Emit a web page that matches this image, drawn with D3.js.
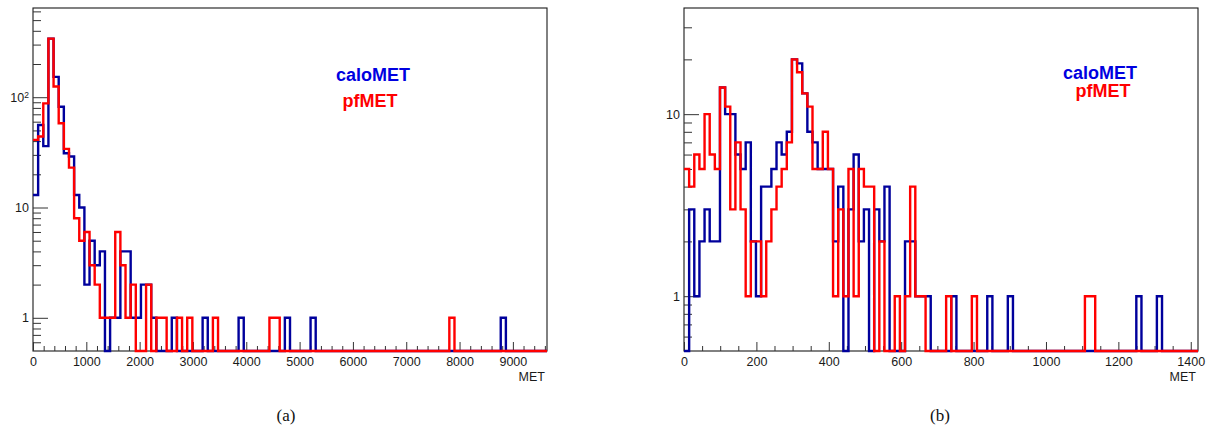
<!DOCTYPE html>
<html>
<head>
<meta charset="utf-8">
<script src="https://cdn.jsdelivr.net/npm/d3@7"></script>
<style>
  html, body { margin: 0; padding: 0; background: #ffffff; }
  svg { display: block; }
</style>
</head>
<body>
<svg id="fig" width="1212" height="435"></svg>
<script>
// ---- MET distributions, 100 equal-width bins per panel ----

// (a) full MET range
const metRangeA = [0, 9640];
const countRangeA = [0.5, 644];
const caloMetA = [
  13, 56, 36, 340, 153, 82, 31, 29, 13, 10,
   2,  5,  3,   4,   0,  1,  1,  4,  4,  1,
   1,  2,  2,   1,   0,  0,  0,  1,  0,  0,
   0,  0,  0,   1,   0,  0,  0,  0,  0,  0,
   1,  0,  0,   0,   0,  0,  0,  0,  0,  1,
   0,  0,  0,   0,   1,  0,  0,  0,  0,  0,
   0,  0,  0,   0,   0,  0,  0,  0,  0,  0,
   0,  0,  0,   0,   0,  0,  0,  0,  0,  0,
   0,  0,  0,   0,   0,  0,  0,  0,  0,  0,
   0,  1,  0,   0,   0,  0,  0,  0,  0,  0
];
const pfMetA = [
  41, 44, 88, 340, 125, 58, 34, 23,  8,  5,
   6,  3,  2,   1,   1,  1,  6,  3,  1,  2,
   0,  0,  2,   0,   1,  1,  0,  0,  1,  0,
   1,  0,  0,   0,   0,  1,  0,  0,  0,  0,
   0,  0,  0,   0,   0,  0,  1,  1,  0,  0,
   0,  0,  0,   0,   0,  0,  0,  0,  0,  0,
   0,  0,  0,   0,   0,  0,  0,  0,  0,  0,
   0,  0,  0,   0,   0,  0,  0,  0,  0,  0,
   0,  1,  0,   0,   0,  0,  0,  0,  0,  0,
   0,  0,  0,   0,   0,  0,  0,  0,  0,  0
];
const xTickValuesA = [0, 1000, 2000, 3000, 4000, 5000, 6000, 7000, 8000, 9000];
const yTickValuesA = [1, 10, 100];
// [mantissa, exponent] pairs; an empty exponent means plain text
const yTickLabelsA = [["1", ""], ["10", ""], ["10", "2"]];

// (b) low-MET range
const metRangeB = [0, 1420];
const countRangeB = [0.5, 38.3];
const caloMetB = [
   0,  3,  1,  2,  3,  2,  2, 14, 10, 10,
   6,  5,  7,  2,  1,  4,  4,  5,  7,  6,
   8, 20, 19, 13,  8,  7,  5,  5,  5,  2,
   4,  0,  3,  6,  2,  3,  0,  3,  2,  4,
   0,  0,  0,  2,  2,  1,  1,  1,  0,  0,
   0,  0,  1,  0,  0,  0,  0,  0,  0,  1,
   0,  0,  0,  1,  0,  0,  0,  0,  0,  0,
   0,  0,  0,  0,  0,  0,  0,  0,  0,  0,
   0,  0,  0,  0,  0,  0,  0,  0,  1,  0,
   0,  0,  1,  0,  0,  0,  0,  0,  0,  0
];
const pfMetB = [
   5,  4,  6,  5, 10,  6,  5, 14, 11,  3,
   7,  3,  1,  2,  2,  1,  2,  3,  4,  5,
   7, 20, 17, 13, 11,  5,  5,  8,  5,  1,
   3,  1,  5,  1,  5,  4,  4,  0,  2,  0,
   0,  1,  0,  1,  4,  1,  1,  0,  0,  0,
   0,  1,  0,  0,  0,  0,  1,  0,  0,  0,
   0,  0,  0,  0,  0,  0,  0,  0,  0,  0,
   0,  0,  0,  0,  0,  0,  0,  0,  1,  1,
   0,  0,  0,  0,  0,  0,  0,  0,  0,  0,
   0,  0,  0,  0,  0,  0,  0,  0,  0,  0
];
const xTickValuesB = [0, 200, 400, 600, 800, 1000, 1200, 1400];
const yTickValuesB = [1, 10];
const yTickLabelsB = [["1", ""], ["10", ""]];

const seriesNames = ["caloMET", "pfMET"];
const axisTitle = "MET";
const panelCaptions = ["(a)", "(b)"];

// ---- drawing ----
const svg = d3.select("#fig");
const LINE_BLUE = "#00009c";
const TEXT_BLUE = "#0000e0";
const RED = "#ff0000";
const SANS = "'Liberation Sans', Arial, Helvetica, sans-serif";
const SERIF = "'Liberation Serif', 'DejaVu Serif', serif";

function logMinorTicks(lo, hi, majors) {
  const out = [];
  for (let e = Math.floor(Math.log10(lo)); Math.pow(10, e) <= hi; e++) {
    for (let d = 1; d <= 9; d++) {
      const v = d * Math.pow(10, e);
      if (v > lo && v <= hi && !majors.includes(v)) out.push(v);
    }
  }
  return out;
}

function drawPanel(cfg, idx) {
  const g = svg.append("g").attr("transform", `translate(${cfg.left},${cfg.top})`);
  const w = cfg.width, h = cfg.height;

  const x = d3.scaleLinear().domain(cfg.xRange).range([0, w]);
  const y = d3.scaleLog().domain(cfg.yRange).range([h, 0]);

  const clipId = "clip" + idx;
  g.append("clipPath").attr("id", clipId)
    .append("rect").attr("x", -1).attr("y", -2).attr("width", w + 2).attr("height", h + 4);

  // frame
  g.append("rect").attr("x", 0).attr("y", 0).attr("width", w).attr("height", h)
    .attr("fill", "none").attr("stroke", "#1a1a1a").attr("stroke-width", 1.1);

  // x axis: major + minor ticks pointing into the frame
  const xMinor = d3.range(cfg.xRange[0], cfg.xRange[1], cfg.xMinorStep)
    .filter(v => !cfg.xTicks.includes(v));
  const xMinorAxis = d3.axisBottom(x).tickValues(xMinor).tickSize(-5).tickSizeOuter(0).tickFormat("");
  const xMajorAxis = d3.axisBottom(x).tickValues(cfg.xTicks).tickSize(-9).tickSizeOuter(0)
    .tickPadding(6).tickFormat(d3.format("d"));
  const gx1 = g.append("g").attr("transform", `translate(0,${h})`).call(xMinorAxis);
  const gx2 = g.append("g").attr("transform", `translate(0,${h})`).call(xMajorAxis);

  // y axis (log)
  const yMinor = logMinorTicks(cfg.yRange[0], cfg.yRange[1], cfg.yTicks);
  const yMinorAxis = d3.axisLeft(y).tickValues(yMinor).tickSize(-8).tickSizeOuter(0).tickFormat("");
  const yMajorAxis = d3.axisLeft(y).tickValues(cfg.yTicks).tickSize(-15).tickSizeOuter(0)
    .tickPadding(4).tickFormat("");
  const gy1 = g.append("g").call(yMinorAxis);
  const gy2 = g.append("g").call(yMajorAxis);

  [gx1, gx2, gy1, gy2].forEach(a => {
    a.select(".domain").remove();
    a.selectAll(".tick line").attr("stroke", "#333").attr("stroke-width", 1);
    a.selectAll(".tick text").attr("fill", "#1a1a1a")
      .style("font-family", SANS).style("font-size", "12.5px");
  });

  // log-axis labels with real superscripts
  gy2.selectAll(".tick text").each(function (d, i) {
    const t = d3.select(this);
    const lab = cfg.yLabels[i];
    t.text(null);
    t.append("tspan").text(lab[0]);
    if (lab[1]) {
      t.append("tspan").attr("dy", "-0.45em").style("font-size", "8.5px").text(lab[1]);
    }
  });

  // axis title
  g.append("text").attr("x", w - 2).attr("y", h + 30)
    .attr("text-anchor", "end").attr("fill", "#1a1a1a")
    .style("font-family", SANS).style("font-size", "12.5px")
    .text(axisTitle);

  // histogram outlines
  const nb = cfg.series[0].values.length;
  const bw = (cfg.xRange[1] - cfg.xRange[0]) / nb;
  const bottom = cfg.yRange[0];
  const step = d3.line()
    .x(d => x(d[0]))
    .y(d => y(d[1] > 0 ? d[1] : bottom))
    .curve(d3.curveStepAfter);

  const hg = g.append("g").attr("clip-path", `url(#${clipId})`);
  cfg.series.forEach(s => {
    const pts = s.values.map((v, i) => [cfg.xRange[0] + i * bw, v]);
    pts.push([cfg.xRange[1], s.values[nb - 1]]);
    hg.append("path").datum(pts)
      .attr("d", step)
      .attr("fill", "none")
      .attr("stroke", s.color)
      .attr("stroke-width", 2.4)
      .attr("stroke-linejoin", "miter");
  });

  // legend text
  cfg.legend.forEach(l => {
    g.append("text").attr("x", l.x).attr("y", l.y)
      .attr("text-anchor", "middle").attr("fill", l.color)
      .style("font-family", SANS).style("font-size", "18px").style("font-weight", "bold")
      .text(l.text);
  });

  // caption
  svg.append("text").attr("x", cfg.left + cfg.captionDx).attr("y", 421)
    .attr("text-anchor", "middle").attr("fill", "#111")
    .style("font-family", SERIF).style("font-size", "17px")
    .text(panelCaptions[idx]);
}

drawPanel({
  left: 33, top: 8, width: 514, height: 343,
  xRange: metRangeA, yRange: countRangeA,
  xTicks: xTickValuesA, xMinorStep: 200,
  yTicks: yTickValuesA, yLabels: yTickLabelsA,
  series: [
    { values: caloMetA, color: LINE_BLUE },
    { values: pfMetA, color: RED }
  ],
  legend: [
    { text: seriesNames[0], color: TEXT_BLUE, x: 340, y: 73 },
    { text: seriesNames[1], color: RED, x: 337, y: 99 }
  ],
  captionDx: 253
}, 0);

drawPanel({
  left: 684, top: 8, width: 514, height: 343,
  xRange: metRangeB, yRange: countRangeB,
  xTicks: xTickValuesB, xMinorStep: 50,
  yTicks: yTickValuesB, yLabels: yTickLabelsB,
  series: [
    { values: caloMetB, color: LINE_BLUE },
    { values: pfMetB, color: RED }
  ],
  legend: [
    { text: seriesNames[0], color: TEXT_BLUE, x: 416, y: 71 },
    { text: seriesNames[1], color: RED, x: 419, y: 89 }
  ],
  captionDx: 256
}, 1);
</script>
</body>
</html>
